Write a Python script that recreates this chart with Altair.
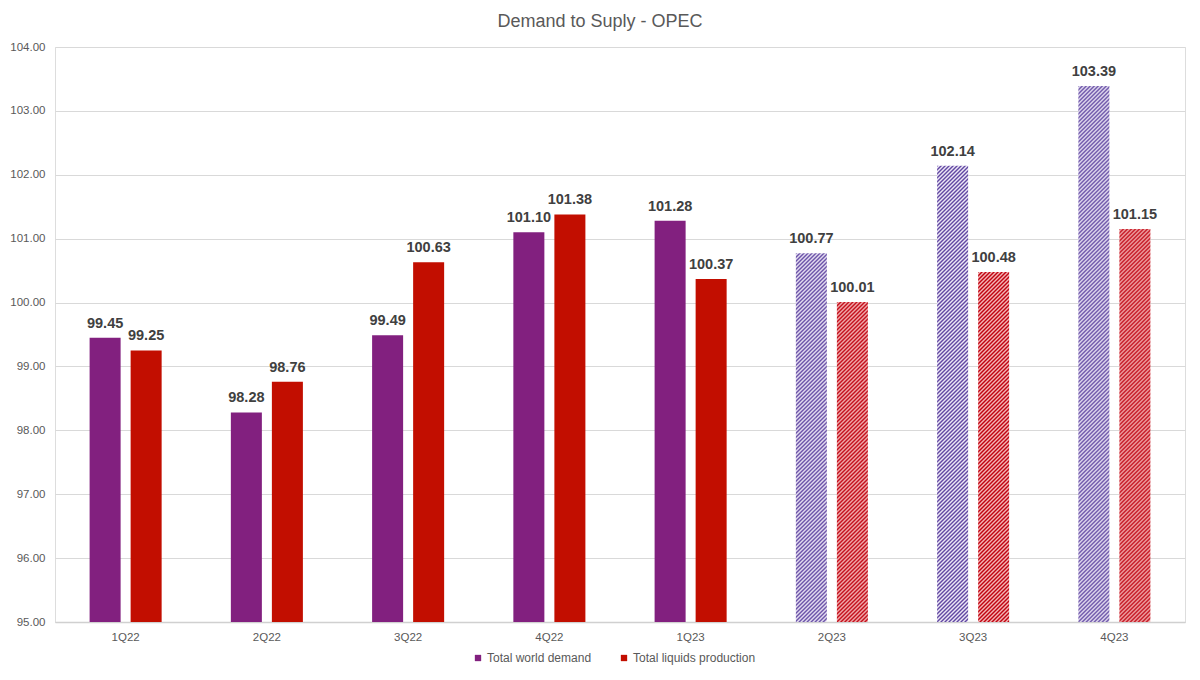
import altair as alt
import pandas as pd

quarters = ["1Q22", "2Q22", "3Q22", "4Q22", "1Q23", "2Q23", "3Q23", "4Q23"]
demand = [99.45, 98.28, 99.49, 101.10, 101.28, 100.77, 102.14, 103.39]
production = [99.25, 98.76, 100.63, 101.38, 100.37, 100.01, 100.48, 101.15]
forecast = [False, False, False, False, False, True, True, True]
series = ["Total world demand", "Total liquids production"]

rows = []
for i, q in enumerate(quarters):
    rows.append({"quarter": q, "series": series[0], "value": demand[i], "forecast": forecast[i]})
    rows.append({"quarter": q, "series": series[1], "value": production[i], "forecast": forecast[i]})
df = pd.DataFrame(rows)
df["label"] = df["value"].map(lambda v: f"{v:.2f}")

FONT = "Liberation Sans"
W, H = 1130, 575
YMIN, YMAX = 95, 104
BAR_W = 31

solid = {series[0]: "#82207f", series[1]: "#c20e00"}
hatch_cols = {
    series[0]: ("#5e44a0", "#f1ecf9"),
    series[1]: ("#c0000e", "#f3b8b8"),
}


def hatch(dark, light, value, period=4.0):
    h = (value - YMIN) / (YMAX - YMIN) * H
    w = BAR_W
    s = (w + h) / (w * w + h * h)
    total = w + h
    n = int(total / period) + 1
    stops = []
    for k in range(n + 1):
        t0 = k * period / total
        t1 = (k + 0.5) * period / total
        if t0 <= 1:
            stops.append({"offset": round(t0, 5), "color": dark})
        if t1 <= 1:
            stops.append({"offset": round(t1, 5), "color": light})
    return {"gradient": "linear", "x1": 0, "y1": 0, "x2": s * w, "y2": s * h, "stops": stops}


x_enc = alt.X(
    "quarter:N",
    sort=quarters,
    scale=alt.Scale(domain=quarters, paddingInner=0.49, paddingOuter=0.245),
    axis=alt.Axis(
        title=None, labelAngle=0, labelFont=FONT, labelFontSize=11.5, labelColor="#595959",
        domainColor="#d0d0d0", domainWidth=1.5, ticks=False, labelPadding=9,
    ),
)
xo_enc = alt.XOffset(
    "series:N", sort=series,
    scale=alt.Scale(domain=series, paddingInner=0.244, paddingOuter=0),
)
y_enc = alt.Y(
    "value:Q",
    scale=alt.Scale(domain=[YMIN, YMAX], zero=False, nice=False),
    axis=alt.Axis(
        title=None, format=".2f", values=list(range(95, 105)), labelFont=FONT, labelFontSize=11.5,
        labelColor="#595959", gridColor="#d9d9d9", gridWidth=1, domain=False, ticks=False,
        labelPadding=10,
    ),
)
y2_enc = alt.Y2(datum=YMIN)

base = alt.Chart(df)

actual = base.transform_filter("!datum.forecast").mark_bar().encode(
    x=x_enc, xOffset=xo_enc, y=y_enc, y2=y2_enc,
    color=alt.Color(
        "series:N", sort=series,
        scale=alt.Scale(domain=series, range=[solid[s] for s in series]),
        legend=alt.Legend(
            title=None, orient="none", direction="horizontal", legendX=417, legendY=605,
            symbolType="square", symbolSize=40, labelFont=FONT, labelFontSize=12,
            labelColor="#595959", columnPadding=26, labelOffset=3,
        ),
    ),
)

layers = [actual]
for i, q in enumerate(quarters):
    if not forecast[i]:
        continue
    for s, v in zip(series, [demand[i], production[i]]):
        dark, light = hatch_cols[s]
        layers.append(
            base.transform_filter(
                alt.FieldEqualPredicate(field="quarter", equal=q)
            ).transform_filter(
                alt.FieldEqualPredicate(field="series", equal=s)
            ).mark_bar(fill=hatch(dark, light, v)).encode(
                x=x_enc, xOffset=xo_enc, y=y_enc, y2=y2_enc
            )
        )

labels = base.mark_text(
    baseline="bottom", dy=-7, font=FONT, fontSize=14.5, fontWeight="bold", color="#404040"
).encode(x=x_enc, xOffset=xo_enc, y=y_enc, text="label:N")
layers.append(labels)

chart = alt.layer(*layers).properties(
    width=W, height=H,
    autosize=alt.AutoSizeParams(type="none"),
    padding={"left": 47, "top": 39, "right": 7, "bottom": 50},
    title=alt.Title(
        "Demand to Suply - OPEC", font=FONT, fontSize=18, fontWeight="normal",
        color="#595959", anchor="middle", dx=-20, offset=10,
    ),
).configure_view(stroke=None).configure(background="white")

chart.save("out.html", embed_options={"renderer": "svg", "actions": False})
